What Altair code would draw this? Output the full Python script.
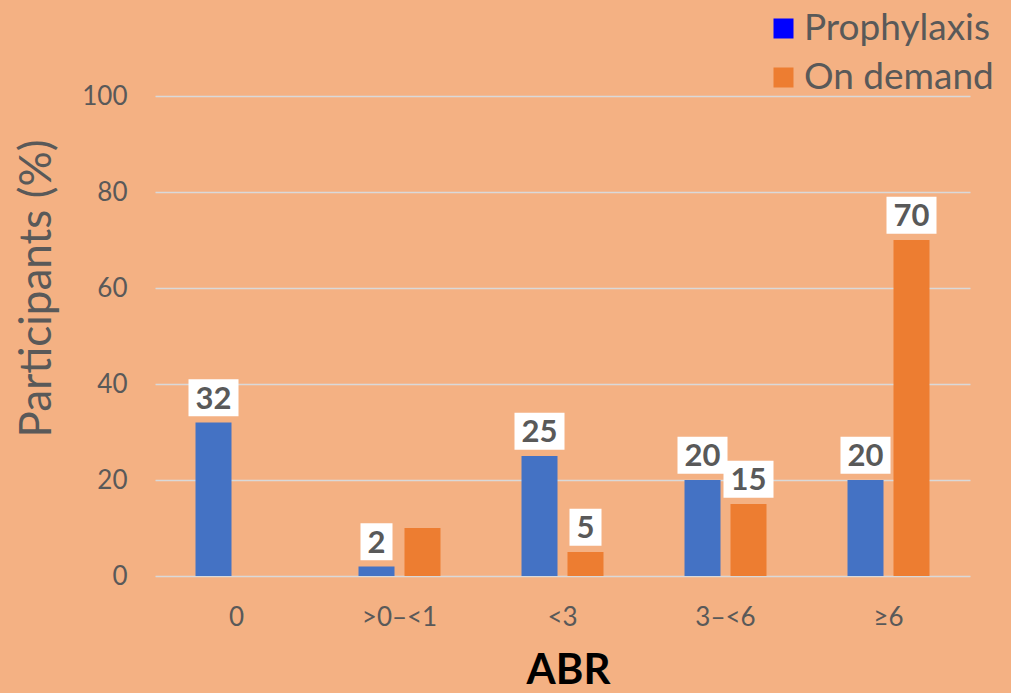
import altair as alt
import pandas as pd

# ABR bands and the share of participants in each, per treatment regimen
categories = ["0", ">0–<1", "<3", "3–<6", "≥6"]
series = ["Prophylaxis", "On demand"]
prophylaxis = [32, 2, 25, 20, 20]
on_demand = [0, 10, 5, 15, 70]
# which bars carry a value label
prophylaxis_labeled = [True, True, True, True, True]
on_demand_labeled = [False, False, True, True, True]

bar_colors = ["#4472C4", "#ED7D31"]
legend_colors = ["#0000FF", "#ED7D31"]

rows = []
for i, c in enumerate(categories):
    rows.append({"abr": c, "group": series[0], "pct": prophylaxis[i], "labeled": prophylaxis_labeled[i]})
    rows.append({"abr": c, "group": series[1], "pct": on_demand[i], "labeled": on_demand_labeled[i]})
df = pd.DataFrame(rows)

FONT = "Lato"
GRAY = "#595959"

x_axis = alt.Axis(
    title="ABR", labelAngle=0, labelFont=FONT, labelFontSize=26, labelColor=GRAY,
    labelPadding=28, domain=False, ticks=False, grid=False,
    titleFont=FONT, titleFontSize=42, titleFontWeight="bold", titleColor="black",
    titleY=107, titleX=413, titleBaseline="alphabetic",
)
y_axis = alt.Axis(
    title="Participants (%)", values=[0, 20, 40, 60, 80, 100], labelFont=FONT,
    labelFontSize=26, labelColor=GRAY, labelPadding=28, domain=False, ticks=False,
    grid=True, gridColor="#D9D9D9", gridWidth=1.5,
    titleFont=FONT, titleFontSize=44, titleFontWeight="normal", titleColor=GRAY,
    titleAngle=-90, titleX=-105, titleY=192, titleAlign="center", titleBaseline="alphabetic",
)

x_enc = alt.X("abr:N", sort=categories, axis=x_axis,
              scale=alt.Scale(paddingInner=0.497, paddingOuter=0.2485))
xo_enc = alt.XOffset("group:N", sort=series,
                     scale=alt.Scale(paddingInner=0.2174, paddingOuter=0))
y_scale = alt.Scale(domain=[0, 100])

base = alt.Chart(df)

bars = base.mark_bar().encode(
    x=x_enc,
    xOffset=xo_enc,
    y=alt.Y("pct:Q", scale=y_scale, axis=y_axis),
    color=alt.Color("group:N", scale=alt.Scale(domain=series, range=bar_colors), legend=None),
)

labeled = base.transform_filter("datum.labeled").transform_calculate(
    lo="datum.pct + 1.3", hi="datum.pct + 9", mid="datum.pct + 5.15",
    bw="datum.pct < 10 ? 32 : 50",
)

# white label boxes behind the values
boxes = labeled.mark_bar(color="white").encode(
    x=x_enc,
    xOffset=xo_enc,
    y=alt.Y("lo:Q", scale=y_scale, axis=y_axis),
    y2="hi:Q",
    size=alt.Size("bw:Q", scale=None),
)

texts = labeled.mark_text(
    font=FONT, fontSize=31, fontWeight="bold", color=GRAY, dy=2, baseline="middle"
).encode(
    x=x_enc,
    xOffset=xo_enc,
    y=alt.Y("mid:Q", scale=y_scale, axis=y_axis),
    text=alt.Text("pct:Q"),
)

# legend drawn from its own colour scale
legend_layer = base.transform_filter("false").mark_square().encode(
    color=alt.Color(
        "group:N",
        scale=alt.Scale(domain=series, range=legend_colors),
        legend=alt.Legend(
            title=None, orient="none", legendX=610, legendY=-86, padding=0,
            symbolType="square", symbolSize=400, symbolStrokeWidth=0, symbolOpacity=1,
            labelFont=FONT, labelFontSize=37, labelColor=GRAY, labelOffset=2,
            labelLimit=0, rowPadding=11,
        ),
    )
)

chart = (
    alt.layer(bars, boxes, texts, legend_layer)
    .resolve_scale(color="independent")
    .properties(
        width=815, height=480,
        autosize=alt.AutoSizeParams(type="none"),
        padding={"left": 155, "top": 96, "right": 41, "bottom": 117},
        background="#F4B183",
    )
    .configure_view(stroke=None)
)

chart.save("out.html", embed_options={"renderer": "svg", "actions": False})
